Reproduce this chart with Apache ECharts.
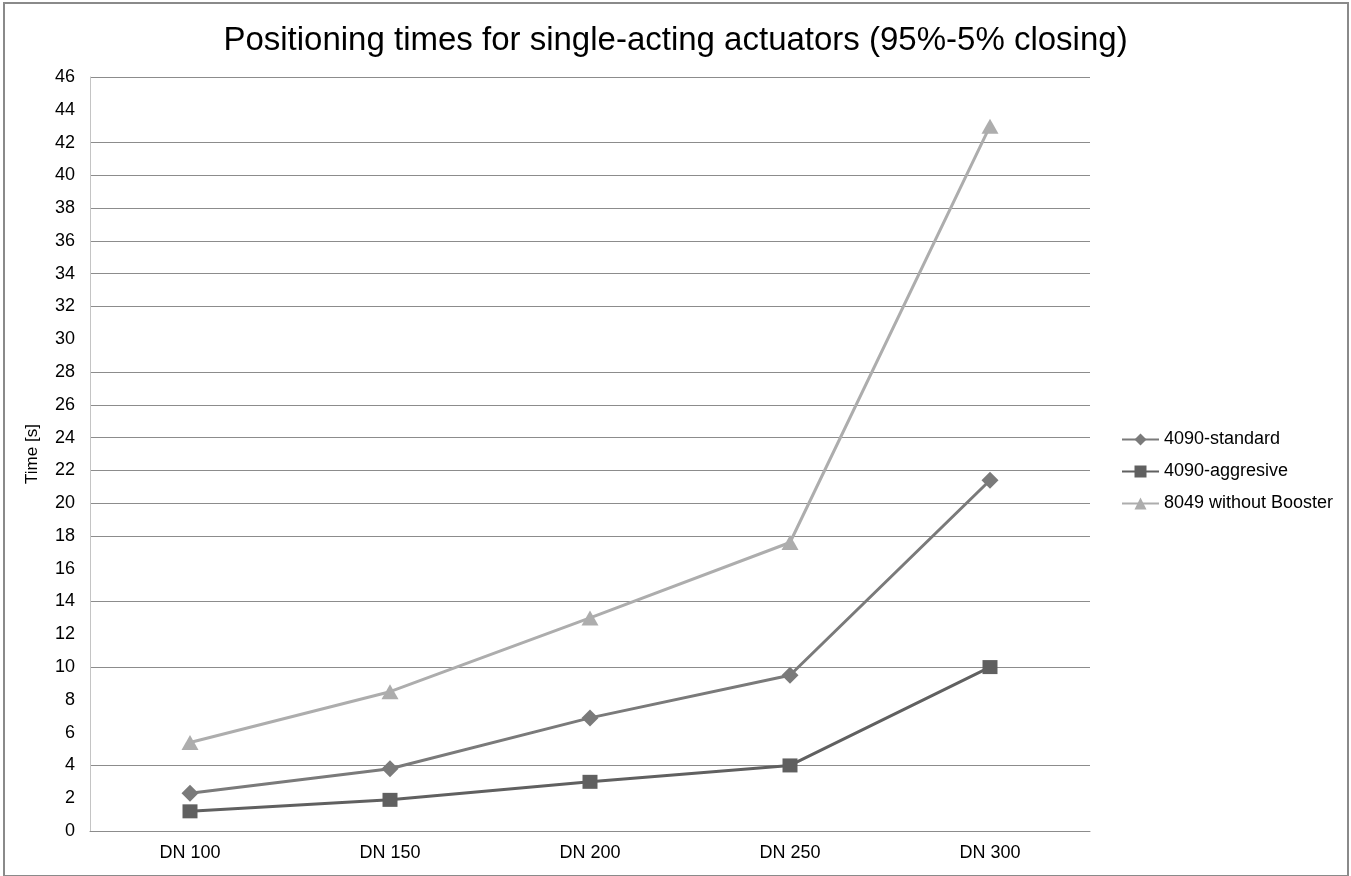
<!DOCTYPE html>
<html>
<head>
<meta charset="utf-8">
<script src="https://cdn.jsdelivr.net/npm/echarts@6/dist/echarts.min.js"></script>
<style>
  html, body { margin: 0; padding: 0; background: #fff; }
  #chart { position: absolute; left: 0; top: 0; width: 1351px; height: 876px; }
  #frame { position: absolute; left: 3px; top: 2px; width: 1342px; height: 871px;
           border: 2px solid #8a8a8a; pointer-events: none; }
</style>
</head>
<body>
<div id="chart"></div>
<div id="frame"></div>
<script>
const categories = ['DN 100', 'DN 150', 'DN 200', 'DN 250', 'DN 300'];
const standard = [2.3, 3.8, 6.9, 9.5, 21.4];
const aggressive = [1.2, 1.9, 3.0, 4.0, 10.0];
const withoutBooster = [5.4, 8.5, 13.0, 17.6, 43.0];
const seriesNames = ['4090-standard', '4090-aggresive', '8049 without Booster'];
const yMin = 0, yMax = 46, yStep = 2;

// gridlines that are not visible in the reference image
const hiddenGridValues = [2, 6, 8, 12, 16, 30, 44];
const gridColors = [];
for (let v = yMin; v <= yMax; v += yStep) {
  gridColors.push(hiddenGridValues.indexOf(v) >= 0 ? 'rgba(0,0,0,0)' : '#8c8c8c');
}

const font = 'Arial, "Liberation Sans", sans-serif';
const chart = echarts.init(document.getElementById('chart'), null, { renderer: 'canvas' });
chart.setOption({
  animation: false,
  backgroundColor: '#ffffff',
  title: {
    text: 'Positioning times for single-acting actuators (95%-5% closing)',
    left: 'center',
    top: 19,
    textStyle: { fontFamily: font, fontSize: 33, fontWeight: 'normal', color: '#000' }
  },
  legend: {
    orient: 'vertical',
    left: 1116,
    top: 424,
    itemWidth: 37,
    itemHeight: 15,
    itemGap: 11,
    textStyle: { fontFamily: font, fontSize: 18, color: '#000', lineHeight: 21 },
    data: seriesNames
  },
  grid: { left: 90, right: 261, top: 77, bottom: 45, containLabel: false },
  xAxis: {
    type: 'category',
    data: categories,
    boundaryGap: true,
    axisLine: { lineStyle: { color: '#8c8c8c', width: 1 } },
    axisTick: { show: false },
    axisLabel: { fontFamily: font, fontSize: 18, color: '#000', margin: 13 }
  },
  yAxis: {
    type: 'value',
    min: yMin,
    max: yMax,
    interval: yStep,
    name: 'Time [s]',
    nameLocation: 'middle',
    nameGap: 49,
    nameRotate: 90,
    nameTextStyle: { fontFamily: font, fontSize: 17, color: '#000' },
    axisLine: { show: true, lineStyle: { color: '#c4c4c4', width: 1 } },
    axisTick: { show: false },
    axisLabel: { fontFamily: font, fontSize: 18, color: '#000', margin: 15 },
    splitLine: { show: true, lineStyle: { color: gridColors, width: 1 } }
  },
  series: [
    {
      name: seriesNames[0], type: 'line', data: standard,
      symbol: 'diamond', symbolSize: [17, 17],
      lineStyle: { color: '#7a7a7a', width: 3 },
      itemStyle: { color: '#7a7a7a' }, z: 3
    },
    {
      name: seriesNames[1], type: 'line', data: aggressive,
      symbol: 'rect', symbolSize: [15, 14],
      lineStyle: { color: '#606060', width: 3 },
      itemStyle: { color: '#606060' }, z: 3
    },
    {
      name: seriesNames[2], type: 'line', data: withoutBooster,
      symbol: 'triangle', symbolSize: [17, 15],
      lineStyle: { color: '#adadad', width: 3 },
      itemStyle: { color: '#adadad' }, z: 2
    }
  ]
});
</script>
</body>
</html>
